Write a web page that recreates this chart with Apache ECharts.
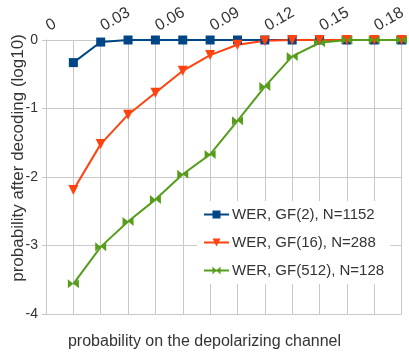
<!DOCTYPE html>
<html><head><meta charset="utf-8">
<script src="https://cdn.jsdelivr.net/npm/echarts@6/dist/echarts.min.js"></script>
<style>html,body{margin:0;padding:0;background:#fff}#c{width:409px;height:352px}</style>
</head><body><div id="c"></div>
<script>
const xValues = [0.015,0.03,0.045,0.06,0.075,0.09,0.105,0.12,0.135,0.15,0.165,0.18,0.195];
const gf2 = [-0.33,-0.03,0,0,0,0,0,0,0,0,0,0,0];
const gf16 = [-2.19,-1.52,-1.09,-0.77,-0.45,-0.22,-0.07,-0.01,0,0,0,0,0];
const gf512 = [-3.56,-3.02,-2.65,-2.33,-1.96,-1.67,-1.18,-0.68,-0.24,-0.04,0,0,0];
const seriesNames = ['WER, GF(2), N=1152','WER, GF(16), N=288','WER, GF(512), N=128'];
const yTicks = [0,-1,-2,-3,-4];
const xTickLabels = ['0','0.03','0.06','0.09','0.12','0.15','0.18'];
const FONT = 'Liberation Sans';
const pair = a => xValues.map((x,i)=>[x,a[i]]);
const chart = echarts.init(document.getElementById('c'));
chart.setOption({
  animation:false,
  textStyle:{fontFamily:FONT},
  grid:{left:46,right:5,top:40,bottom:38},
  title:{text:'probability on the depolarizing channel',left:'center',bottom:2,padding:0,
    textStyle:{fontFamily:FONT,fontSize:16,fontWeight:'normal',color:'#333'}},
  graphic:[{type:'text',x:18,y:158,rotation:Math.PI/2,
    style:{text:'probability after decoding (log10)',font:'17px "Liberation Sans"',fill:'#333',
      align:'center',verticalAlign:'middle'}}],
  xAxis:{type:'value',position:'top',min:0,max:0.195,interval:0.015,
    axisLine:{show:false},axisTick:{show:false},
    splitLine:{show:true,lineStyle:{color:'#c8c8c8',width:1}},
    axisLabel:{rotate:30,margin:3,fontSize:16,color:'#333',fontFamily:FONT,
      align:'left',verticalAlign:'bottom',padding:[0,0,0,6],
      formatter:v=>{const k=Math.round(v/0.015);return k%2===0?xTickLabels[k/2]||'':'';}}},
  yAxis:{type:'value',min:-4,max:0,interval:1,
    axisLine:{show:true,lineStyle:{color:'#c8c8c8'}},
    axisTick:{show:true,length:4,lineStyle:{color:'#c8c8c8'}},
    splitLine:{show:true,lineStyle:{color:'#c8c8c8',width:1}},
    axisLabel:{margin:8,fontSize:14,color:'#333',fontFamily:FONT,
      formatter:v=>yTicks.includes(v)?String(v):''}},
  legend:{orient:'vertical',left:197,top:201,itemGap:13,itemWidth:25,itemHeight:10,
    backgroundColor:'#fff',padding:[6,6,6,6],
    textStyle:{fontFamily:FONT,fontSize:15,color:'#333',padding:[0,0,0,-2]},
    data:seriesNames},
  series:[
    {name:seriesNames[0],type:'line',data:pair(gf2),symbol:'rect',symbolSize:9,
      itemStyle:{color:'#004586'},lineStyle:{color:'#004586',width:2}},
    {name:seriesNames[1],type:'line',data:pair(gf16),symbol:'triangle',symbolRotate:180,symbolSize:10,
      itemStyle:{color:'#ff420e'},lineStyle:{color:'#ff420e',width:2}},
    {name:seriesNames[2],type:'line',data:pair(gf512),symbol:'path://M0,0 L10,5 L0,10 Z M20,0 L10,5 L20,10 Z',symbolSize:[11,9],
      itemStyle:{color:'#579d1c'},lineStyle:{color:'#579d1c',width:2}}
  ]
});
</script></body></html>
